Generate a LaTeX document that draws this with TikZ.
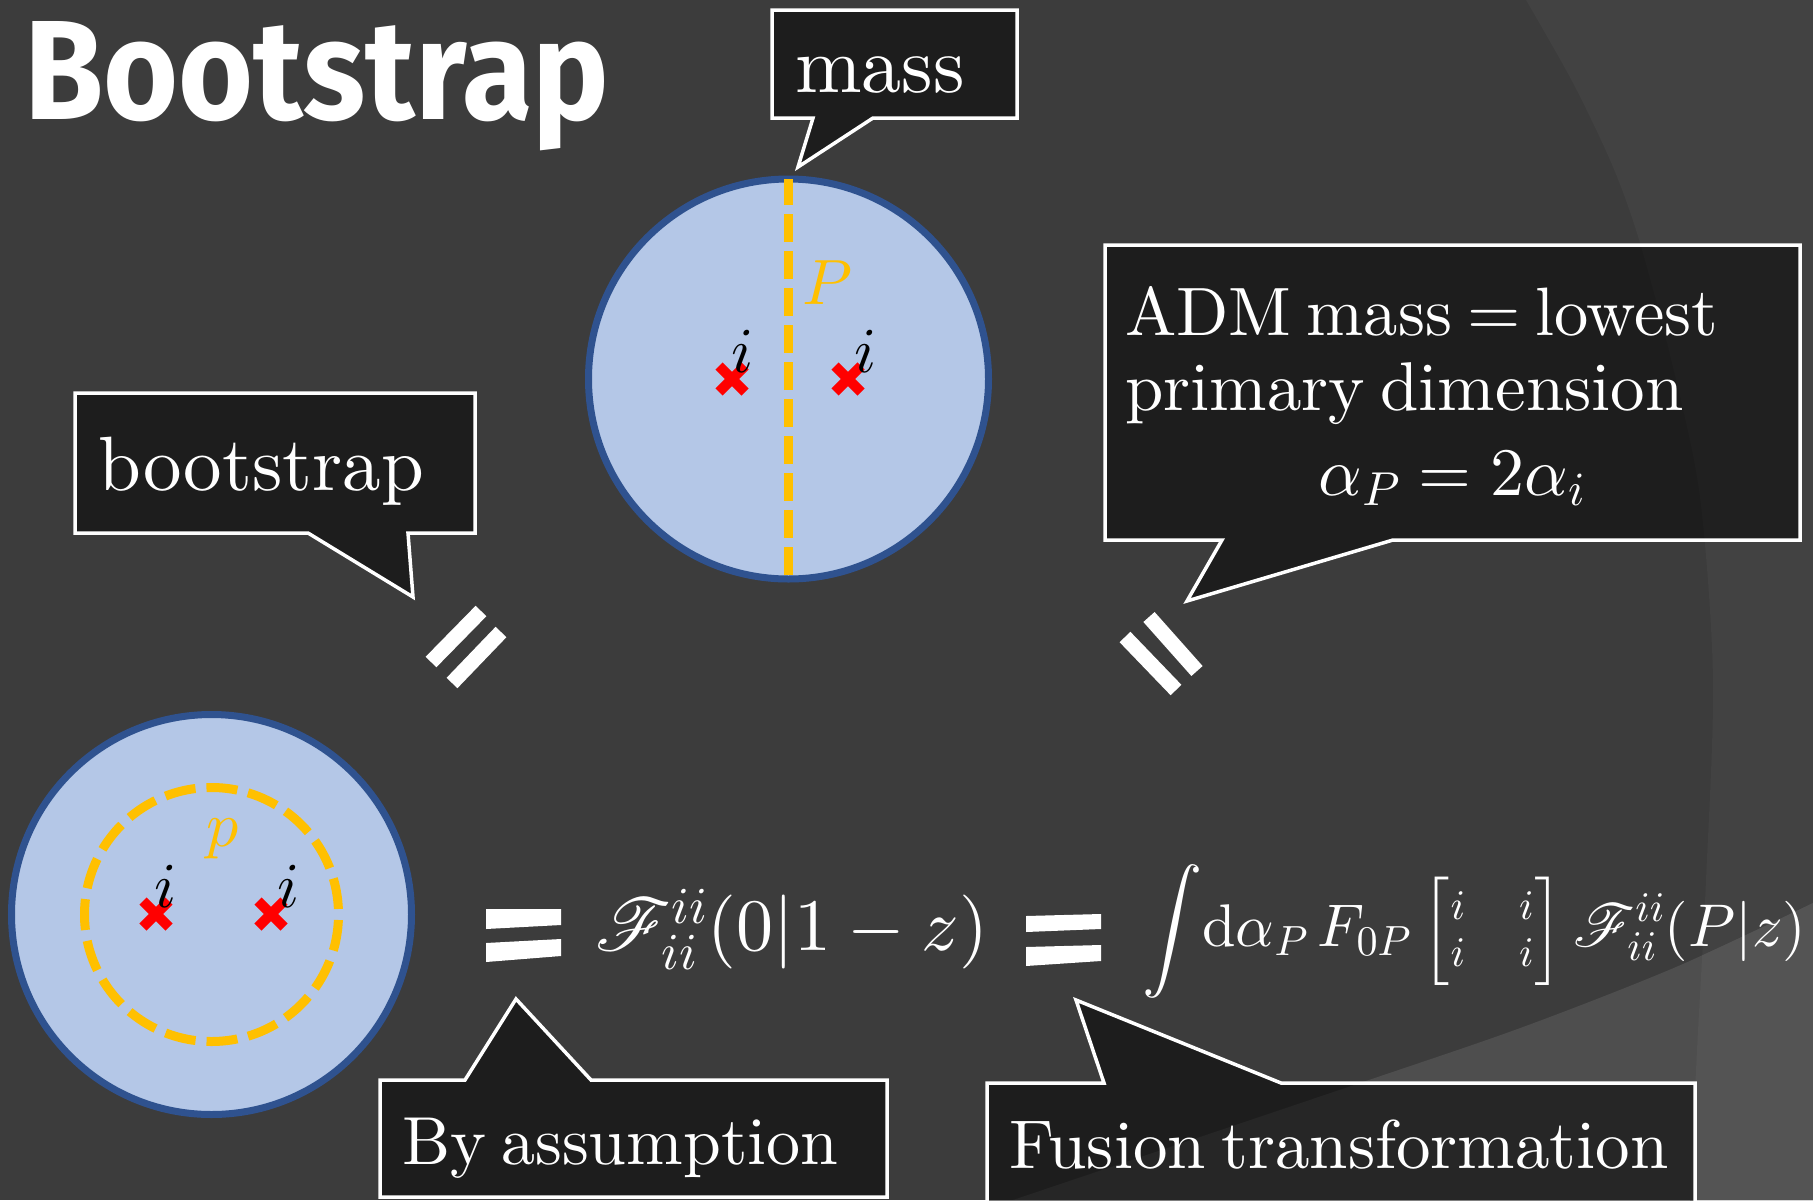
\documentclass[tikz,border=0pt]{standalone}
\usepackage{amsmath}
\usepackage{graphicx}
\usepackage{fontspec}
\usetikzlibrary{calc}
\setmainfont{lmroman10-regular.otf}
\newfontfamily\titlefont{Fira Sans}
\DeclareFontShape{OML}{cmm}{m}{it}{<->cmmi10}{}
\DeclareFontShape{OMS}{cmsy}{m}{n}{<->cmsy10}{}
\DeclareFontShape{OMX}{cmex}{m}{n}{<->cmex10}{}
\DeclareFontShape{OT1}{cmr}{m}{n}{<->cmr10}{}
\DeclareFontFamily{U}{rsfs}{\skewchar\font127 }
\DeclareFontShape{U}{rsfs}{m}{n}{<-6> rsfs5 <6-8> rsfs7 <8-> rsfs10}{}
\DeclareMathAlphabet{\mathscr}{U}{rsfs}{m}{n}
\definecolor{bg}{RGB}{60,60,60}
\definecolor{bgarc}{RGB}{66,66,66}
\definecolor{bgwedge}{RGB}{84,84,84}
\definecolor{bgwedgel}{RGB}{78,78,78}
\definecolor{diskfill}{RGB}{180,199,231}
\definecolor{diskline}{RGB}{47,82,143}
\definecolor{gold}{RGB}{255,192,0}
\definecolor{xred}{RGB}{255,0,0}
\newcommand{\tightsp}{\spaceskip=0.22em plus 0.05em\relax}
\tikzset{
  callout/.style={draw=white, line width=3.5pt, fill=black, fill opacity=0.5, line join=miter},
  lbl/.style={text=white, inner sep=0pt, anchor=base west},
  bar/.style={fill=white},
  slashbar/.style={draw=white, line width=15pt},
  crossline/.style={draw=xred, line width=10pt},
  goldline/.style={draw=gold, line width=9pt},
  disk/.style={circle, draw=diskline, fill=diskfill, line width=7pt, minimum size=400pt, inner sep=0pt},
  ilabel/.style={inner sep=0pt, anchor=base, font=\fontsize{64}{70}\selectfont},
}
\begin{document}
\begin{tikzpicture}[x=1pt,y=-1pt]
\useasboundingbox (0,0) rectangle (1813,1200);
% background
\fill[bg] (0,0) rectangle (1813,1200);
\def\arcpts{(1526,0) (1573,83) (1613,167) (1640,243) (1673,367) (1700,497) (1713,680) (1706,880) (1697,1050) (1690,1200)}
\fill[bgarc] plot[smooth] coordinates {\arcpts} -- (1813,1200) -- (1813,0) -- cycle;
\begin{scope}
  \clip plot[smooth] coordinates {(1013,1200) (1360,1083) (1523,1027) (1676,967) (1813,903)} -- (1813,1200) -- cycle;
  \fill[bgwedgel] (1000,850) rectangle (1813,1200);
  \fill[bgwedge] plot[smooth] coordinates {\arcpts} -- (1813,1200) -- (1813,0) -- cycle;
\end{scope}

% title
\node[lbl] (title) at (24,119) {\resizebox{585pt}{98pt}{\titlefont\bfseries Bootstrap}};

% top disk
\node[disk] (topdisk) at (788.5,379) {};
\coordinate (ptop) at (788.5,179);
\coordinate (pbot) at (788.5,575);
\draw[goldline, dash pattern=on 28pt off 9pt] (pbot) -- (ptop);
\coordinate (x1) at (732,379);
\coordinate (x2) at (848,379);
\foreach \c in {x1,x2}{
  \draw[crossline] ($(\c)+(-13,-13)$) -- ($(\c)+(13,13)$);
  \draw[crossline] ($(\c)+(-13,13)$) -- ($(\c)+(13,-13)$);
}
\node[ilabel] (i1) at (743,372) {$i$};
\node[ilabel] (i2) at (866,372) {$i$};
\node[ilabel, text=gold] (Plabel) at (827,304) {$P$};

% bottom disk
\node[disk] (botdisk) at (211.5,914.5) {};
\draw[goldline, dash pattern=on 31pt off 11pt, dash phase=5pt] (botdisk.center) ++(0,-127) arc[start angle=-90, end angle=270, radius=127];
\coordinate (x3) at (156,914);
\coordinate (x4) at (271,914);
\foreach \c in {x3,x4}{
  \draw[crossline] ($(\c)+(-13,-13)$) -- ($(\c)+(13,13)$);
  \draw[crossline] ($(\c)+(-13,13)$) -- ($(\c)+(13,-13)$);
}
\node[ilabel] (i3) at (166,907) {$i$};
\node[ilabel] (i4) at (289,907) {$i$};
\node[ilabel, text=gold] (plabel) at (223,846) {$p$};

% callouts
\draw[callout] (772,10) -- (1017,10) -- (1017,118) -- (873,118) -- (798,167) -- (813,118) -- (772,118) -- cycle;
\node[lbl, font=\fontsize{80}{96}\selectfont] (mass) at (795,92) {mass};

\draw[callout] (75,393) -- (475,393) -- (475,533) -- (408,533) -- (413,597) -- (308,533) -- (75,533) -- cycle;
\node[lbl, font=\fontsize{77}{92}\selectfont] (boot) at (98,490) {bootstrap};

\draw[callout] (1105,245) -- (1800,245) -- (1800,540) -- (1393,540) -- (1187,601) -- (1222,540) -- (1105,540) -- cycle;
\node[lbl, font=\fontsize{68.5}{80}\selectfont\tightsp] (adm1) at (1125,335) {ADM mass = lowest};
\node[lbl, font=\fontsize{69}{80}\selectfont\tightsp] (adm2) at (1125,410) {primary dimension};
\node[text=white, inner sep=0pt, anchor=base, font=\fontsize{68}{80}\selectfont] (adm3) at (1452,495) {$\alpha_P = 2\alpha_i$};

\draw[callout] (380,1080) -- (465,1080) -- (516,999) -- (591,1080) -- (887,1080) -- (887,1197) -- (380,1197) -- cycle;
\node[lbl, font=\fontsize{68}{80}\selectfont\tightsp] (assume) at (402,1164) {By assumption};

\draw[callout] (987,1083) -- (1104,1083) -- (1076,1000) -- (1281,1083) -- (1695,1083) -- (1695,1210) -- (987,1210) -- cycle;
\node[lbl, font=\fontsize{69}{80}\selectfont\tightsp] (fusion) at (1009,1168) {Fusion transformation};

% slanted equals
\draw[slashbar] (431,662) -- (481,611);
\draw[slashbar] (452,683) -- (501,632);
\draw[slashbar] (1125,637) -- (1176,690);
\draw[slashbar] (1149,617) -- (1197,671);

% big equals
\fill[bar] (486,909) -- (561,909) -- (561,925) -- (486,929) -- cycle;
\fill[bar] (486,943) -- (561,939) -- (561,956) -- (486,962) -- cycle;
\fill[bar] (1026,916) -- (1101,914) -- (1101,929) -- (1026,932) -- cycle;
\fill[bar] (1026,947) -- (1101,945) -- (1101,961) -- (1026,966) -- cycle;

% equations
\node[lbl, font=\fontsize{74}{88}\selectfont] (eq1) at (595,950) {$\mathscr{F}^{ii}_{ii}(0|1-z)$};
\node[lbl, font=\fontsize{74}{88}\selectfont] (eq2) at (1142,946) {\resizebox{664pt}{!}{$\displaystyle\int\!\mathrm{d}\alpha_P\, F_{0P}\left[\genfrac{}{}{0pt}{1}{i\hspace{0.9em}i}{i\hspace{0.9em}i}\right]\mathscr{F}^{ii}_{ii}(P|z)$}};
\end{tikzpicture}
\end{document}
